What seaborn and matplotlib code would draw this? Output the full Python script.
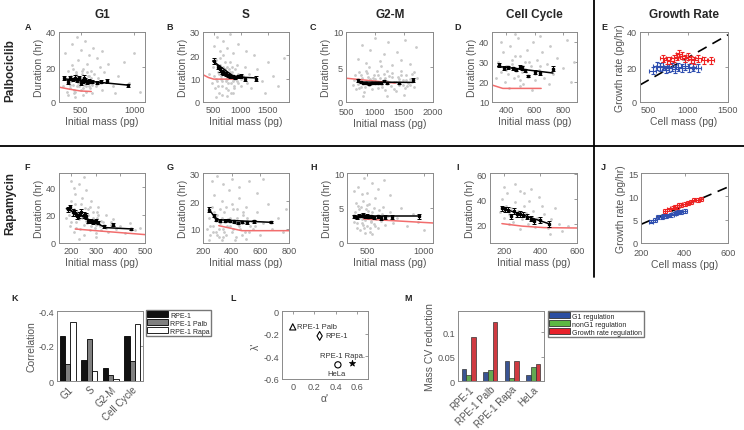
import numpy as np
import pandas as pd
import matplotlib
matplotlib.use("Agg")
import matplotlib.pyplot as plt
import seaborn as sns
from matplotlib.lines import Line2D
from matplotlib.patches import Patch

# ---------------- data ----------------
# Panel A (Palbociclib, G1)
a_cloud_x = [340,355,370,380,390,400,410,420,430,440,450,460,470,480,490,500,510,520,530,540,550,560,570,580,590,600,620,640,660,680,700,
             360,420,470,500,540,580,620,650,700,760,750,800,850,900,950,1000,1050,820,720,380,450,520,610,
             400,420,440,460,480,500,520,540,560,580,600,430,470,510,550,590,630,450,490,530,570,610,650,410]
a_cloud_y = [9,14,6,18,11,8,15,21,10,5,13,17,9,24,12,7,16,19,10,13,6,22,11,15,8,18,12,9,14,20,7,
             28,33,37,30,35,27,31,25,29,22,12,9,15,23,11,28,6,5,17,4,3,4,5,
             10,13,7,16,11,14,8,12,17,9,14,19,15,18,9,11,16,6,9,13,15,10,11,12]
a_bin_x = [350,380,400,430,450,470,490,500,520,530,545,560,580,610,650,690,750,940]
a_bin_y = [13.5,11.5,13.5,13,14,12.5,13.5,11,12,14,12.5,11.5,12,11.5,11,11.5,12,9.5]
a_bin_e = [1.2,1,1.2,1,1.3,1,1.2,1,1.2,1.5,1,1,1,0.8,0.8,0.8,1,0.8]
a_fit_x = [350,950]
a_fit_y = [13.2,9.6]
a_mod_x = [300,400,500,600]
a_mod_y = [8.5,7.3,6.3,6.0]

# Panel B (Palbociclib, S)
b_cloud_x = [420,460,480,500,520,540,560,580,600,620,640,660,680,700,720,740,760,780,800,820,840,860,880,900,930,960,1000,1040,1080,1120,1160,
             500,560,620,680,740,800,860,950,1100,1200,1300,1400,1500,1600,1700,1800,1250,1450,650,750,850,550,700,
             550,600,650,700,750,800,850,900,950,1000,580,630,680,730,780,830,880,930,700,760,820,620,660,720,840]
b_cloud_y = [12,8,15,11,6,18,9,13,4,16,10,7,20,12,9,15,5,11,17,8,13,10,6,14,9,12,7,11,15,8,12,
             24,28,22,26,23,29,21,25,22,6,14,9,17,11,7,19,20,4,3,2.5,4,2,14,
             10,12,9,14,10,13,9,11,8,10,7,11,15,6,14,12,7,16,17,8,4,19,13,10,15]
b_bin_x = [500,580,620,650,680,720,760,800,850,900,950,1000,1080,1280]
b_bin_y = [17.5,15,14,13,12.5,12,11.5,11,11,10.5,11,11,10,10]
b_bin_e = [1.3,1,1,0.8,0.8,0.7,0.7,0.7,0.7,0.7,0.7,0.8,0.8,1]
b_fit_x = [480,880,1290]
b_fit_y = [17.6,10.8,10.3]
b_mod_x = [300,400,500,930]
b_mod_y = [11.7,10.5,9.8,9.8]

# Panel C (Palbociclib, G2-M)
c_cloud_x = [620,650,680,700,730,760,780,810,840,860,890,920,950,980,1000,1030,1060,1090,1120,1150,1180,1210,1240,1270,1300,1330,1360,1390,1420,1450,1480,1510,1540,1570,1600,1640,1680,1720,
             700,780,850,920,1000,1080,1150,1230,1300,1380,1450,1520,1600,1700,900,1100,800,1200,1500,
             640,700,760,820,880,940,1000,1060,1120,1180,1240,1300,1360,1420,1480,1540,1600,1660,720,840,960,1080,1200,1320,1440,1560,1680]
c_cloud_y = [2.5,3.8,1.8,3.1,4.3,2.2,3.5,1.5,2.9,4.1,2.4,3.3,1.9,3.9,2.7,4.5,2.0,3.4,2.6,4.0,1.7,3.0,3.7,2.3,4.2,2.8,1.6,3.6,2.5,4.4,3.1,2.0,3.8,2.7,3.3,4.0,2.2,3.5,
             6.2,8.1,5.6,7.4,9.2,5.9,6.8,8.6,5.3,7.1,6.0,8.9,5.5,7.8,5.0,5.1,0.8,0.9,1.0,
             3.2,2.6,3.9,2.1,3.6,2.8,3.3,3.9,2.2,3.4,2.8,3.6,2.9,3.3,2.4,3.1,2.5,3.1,2.0,4.4,3.5,2.9,4.4,1.9,3.8,2.3,4.3]
c_bin_x = [713,760,800,850,900,950,1000,1050,1100,1150,1200,1406,1654]
c_bin_y = [3.1,2.8,2.75,2.65,2.6,2.7,2.65,2.75,2.7,2.95,2.7,2.7,3.15]
c_bin_e = [0.2,0.1,0.1,0.1,0.1,0.1,0.1,0.1,0.1,0.15,0.12,0.15,0.25]
c_fit_x = [700,1660]
c_fit_y = [2.85,2.8]
c_mod_x = [500,1350]
c_mod_y = [3.4,2.7]

# Panel D (Palbociclib, cell cycle)
d_cloud_x = [330,345,360,375,390,400,415,430,440,455,470,480,495,510,520,535,550,560,575,590,600,615,630,650,670,690,710,730,760,800,830,860,880,420,500,580,640,700,360,460,
             400,440,480,520,560,600,640,460,500,540]
d_cloud_y = [22,30,25,35,20,28,24,38,31,22,27,42,33,25,19,30,36,23,28,40,21,31,26,35,22,29,38,24,32,27,41,20,30,17,18,16,43,19,40,44,
             26,29,23,28,30,24,28,33,21,25]
d_bin_x = [346,387,410,445,468,495,514,532,555,601,640,728]
d_bin_y = [28.3,26.9,27.4,26.9,26.2,27.4,26.9,25.9,23.1,25,24.5,26.6]
d_bin_e = [1,1,0.8,0.8,0.8,1,1,0.8,0.5,1,1,1.2]
d_fit_x = [340,730]
d_fit_y = [27.8,24.5]
d_mod_x = [300,376,647]
d_mod_y = [18.5,16.8,16.8]

# Panel E (Palbociclib, growth rate)
e_red_x = [690,740,780,830,860,890,930,960,1000,1040,1080,1130,1200,1290]
e_red_y = [25,24,23.5,25,26,27.5,26.5,25,26,24.5,24,25,24,24]
e_blue_x = [560,610,650,690,720,760,800,840,880,920,960,1010,1060,1120]
e_blue_y = [18,20.5,20,20.5,18.5,19.5,20,19,20,19.5,20.5,19.5,20,19.5]
e_line_x = [400,1500]
e_line_y = [9.75,38.4]

# Panel F (Rapamycin, G1)
f_cloud_x = [180,190,195,200,205,210,215,220,225,230,235,240,245,250,255,260,265,270,275,280,285,290,295,300,305,310,315,320,330,340,350,360,370,380,400,420,440,460,480,200,250,230,300,210,
             190,200,210,220,230,240,250,260,270,280,290,300,310,320,340,360,215,245,275,305]
f_cloud_y = [18,25,12,30,20,8,35,15,22,42,10,28,18,6,25,38,14,20,9,30,16,22,11,7,18,26,12,9,15,20,8,13,17,10,12,7,14,9,11,44,47,3,4,39,
             20,15,24,11,17,21,13,16,24,12,18,13,20,16,11,15,28,32,26,22]
f_bin_x = [185,195,205,215,225,232,240,250,260,270,280,290,300,310,335,370,445]
f_bin_y = [24,25.5,22,21.5,19,20,22,20,19.5,16,15.5,15,16,14.5,12,13,10]
f_bin_e = [2,2,2.5,2,2,2,2,2,2,1.5,1.5,1.5,1.5,1.2,1,1,1]
f_fit_x = [180,340,450]
f_fit_y = [24.5,11,10]
f_mod_x = [216,300,400,500]
f_mod_y = [10,8.8,7.4,6]

# Panel G (Rapamycin, S)
g_cloud_x = [230,240,250,260,270,280,290,300,310,320,330,340,350,360,370,380,390,400,410,420,430,440,450,460,470,480,490,500,520,540,560,580,600,620,650,680,720,760,780,
             260,300,340,400,450,520,580,620,240,330,420,500,
             250,270,290,310,330,350,370,390,410,430,450,470,490,510,530,550,280,320,360,400,440,480,300,340]
g_cloud_y = [10,14,8,18,11,22,9,15,7,12,20,10,16,8,13,24,11,9,17,12,7,14,21,10,8,15,12,18,9,13,11,16,8,12,19,10,14,9,17,
             27,29,26,28,25,27,23,28,6,6,6,6.5,
             11,9,13,10,14,9,11,14,10,13,11,12,9,14,11,10,16,17,18,19,17,16,8,7]
g_bin_x = [242,275,293,321,356,373,391,415,443,473,508,555,672]
g_bin_y = [16.9,14.8,13.4,13,13,13.3,12.9,12.7,12.2,12.4,12.4,12.7,12.5]
g_bin_e = [0.8,0.5,0.5,0.4,0.4,0.4,0.4,0.4,0.4,0.4,0.5,0.5,0.5]
g_fit_x = [240,295,670]
g_fit_y = [17.2,13.3,12.4]
g_mod_x = [310,470,800]
g_mod_y = [11.2,9.4,9.4]

# Panel H (Rapamycin, G2-M)
h_cloud_x = [380,395,405,415,425,435,445,455,465,475,485,495,505,515,525,535,545,555,565,575,590,605,620,640,660,680,700,730,760,800,850,900,950,1000,420,470,500,540,590,650,700,450,380,
             390,410,430,450,470,490,510,530,550,570,600,630,400,440,480,520,560,460,500,540]
h_cloud_y = [3,4.5,2.2,5.3,3.6,1.8,4.2,2.9,6,3.3,4.8,2.5,3.9,5.6,1.6,3.1,4.4,2.7,6.5,3.5,2.1,4.7,3.2,5.1,2.6,3.8,4.4,2.9,3.6,5.0,2.4,4.1,3.0,1.9,8,9.3,7.2,8.6,7.7,9,6.8,7,7.5,
             3.6,2.8,4.8,3.4,2.2,3.6,4.6,3.0,3.9,2.4,3.7,4.2,5.7,5.2,1.5,2.1,5.0,2.6,5.4,1.3]
h_bin_x = [380,410,430,450,465,480,495,510,530,555,590,620,660,720,960]
h_bin_y = [3.8,3.7,3.9,3.85,4.0,3.8,3.9,3.75,3.8,3.7,3.8,3.6,3.75,3.7,3.8]
h_bin_e = [0.2,0.2,0.2,0.2,0.25,0.2,0.2,0.2,0.2,0.2,0.25,0.25,0.25,0.3,0.35]
h_fit_x = [378,962]
h_fit_y = [3.9,3.9]
h_mod_x = [466,1080]
h_mod_y = [3.43,2.86]

# Panel I (Rapamycin, cell cycle)
i_cloud_x = [180,190,200,210,220,230,240,250,260,270,280,290,300,310,320,330,340,350,360,370,380,390,400,420,440,460,480,500,520,200,260,310,350,230,290,410,450,550]
i_cloud_y = [30,40,25,35,45,28,33,22,38,27,31,47,24,35,29,20,39,26,31,18,25,42,22,28,17,24,33,20,15,50,52,45,48,20,16,35,12,19]
i_bin_x = [190,205,225,240,255,270,290,305,325,350,365,400,445]
i_bin_y = [33,32,31.5,26.5,30.5,28,28.5,27.5,26,24.5,22.5,23.5,20.5]
i_bin_e = [2,2,2,2,2.5,2,2.5,2,2,2,2,2.5,2.5]
i_fit_x = [190,445]
i_fit_y = [33,20.5]
i_mod_x = [190,300,420,600]
i_mod_y = [20.5,18.5,17.3,17]

# Panel J (Rapamycin, growth rate)
j_blue_x = [245,265,280,295,305,315,325,340,350,360,370,385,400]
j_blue_y = [4.6,5.0,5.5,5.6,5.8,5.7,5.9,6.0,6.3,6.5,6.6,6.7,6.8]
j_red_x = [310,330,345,355,365,375,385,400,415,430,445,460,475]
j_red_y = [6.9,7.2,7.6,7.8,7.7,8.2,8.1,8.4,8.6,8.8,9.3,9.2,9.5]
j_line_x = [200,600]
j_line_y = [4.0,12.0]

# Panel K (correlations)
k_phases = ['G1', 'S', 'G2-M', 'Cell Cycle']
k_lines = ['RPE-1', 'RPE-1 Palb', 'RPE-1 Rapa']
k_rpe1 = [-0.256, -0.121, -0.077, -0.256]
k_palb = [-0.096, -0.240, -0.035, -0.115]
k_rapa = [-0.337, -0.060, -0.013, -0.323]

# Panel L (alpha', lambda')
l_names = ['RPE-1', 'RPE-1 Palb', 'RPE-1 Rapa.', 'HeLa']
l_alpha = [0.25, 0.0, 0.555, 0.42]
l_lambda = [-0.22, -0.14, -0.455, -0.475]

# Panel M (mass CV reduction)
m_cells = ['RPE-1', 'RPE-1 Palb', 'RPE-1 Rapa', 'HeLa']
m_kinds = ['G1 regulation', 'nonG1 regulation', 'Growth rate regulation']
m_g1 = [0.024, 0.018, 0.041, 0.012]
m_nong1 = [0.013, 0.022, 0.006, 0.028]
m_growth = [0.090, 0.120, 0.041, 0.035]

# ---------------- style ----------------
sns.set_style("white")
plt.rcParams['font.family'] = ['Liberation Sans', 'DejaVu Sans']
plt.rcParams['axes.unicode_minus'] = False

W, H = 744, 431
fig = plt.figure(figsize=(W / 100, H / 100), dpi=100)

TXT = '#555555'
EDGE = '#8a8a8a'
CLOUD = '#c9c9c9'
MODEL = '#f26d6d'
RED = '#ee2222'
BLUE = '#2f4fb0'


def add_ax(l, t, r, b):
    return fig.add_axes([l / W, 1 - b / H, (r - l) / W, (b - t) / H])


def style(ax, xlim, ylim, xt, yt, xtl=None, ytl=None, xpad=2):
    ax.set_xlim(*xlim)
    ax.set_ylim(*ylim)
    ax.set_xticks(xt)
    ax.set_yticks(yt)
    if xtl is not None:
        ax.set_xticklabels(xtl)
    if ytl is not None:
        ax.set_yticklabels(ytl)
    ax.tick_params(direction='in', length=2, width=0.6, colors=EDGE,
                   labelcolor=TXT, labelsize=6.6, pad=2, top=True, right=True)
    ax.tick_params(axis='x', pad=xpad)
    for s in ax.spines.values():
        s.set_color(EDGE)
        s.set_linewidth(0.7)
    ax.set_facecolor('white')


def duration_panel(rect, cx, cy, bx, by, be, fx, fy, mx, my, xlim, ylim, xt, yt, xpad=2):
    ax = add_ax(*rect)
    sns.scatterplot(x=cx, y=cy, ax=ax, s=4, color=CLOUD, linewidth=0, legend=False)
    sns.lineplot(x=mx, y=my, ax=ax, color=MODEL, lw=1.1, sort=False, estimator=None)
    sns.lineplot(x=fx, y=fy, ax=ax, color='black', lw=1.1, sort=False, estimator=None)
    ax.errorbar(bx, by, yerr=be, fmt='s', ms=1.6, color='black', ecolor='black',
                elinewidth=0.7, capsize=1.3, capthick=0.7)
    style(ax, xlim, ylim, xt, yt, xpad=xpad)
    ax.set_xlabel('Initial mass (pg)', fontsize=7.5, color=TXT, labelpad=1.5)
    ax.set_ylabel('Duration (hr)', fontsize=7.5, color=TXT, labelpad=1.5)
    return ax


duration_panel((59, 33, 145, 103), a_cloud_x, a_cloud_y, a_bin_x, a_bin_y, a_bin_e,
               a_fit_x, a_fit_y, a_mod_x, a_mod_y, (300, 1100), (0, 40), [500, 1000], [0, 20, 40])
duration_panel((203, 33, 289, 103), b_cloud_x, b_cloud_y, b_bin_x, b_bin_y, b_bin_e,
               b_fit_x, b_fit_y, b_mod_x, b_mod_y, (300, 1900), (0, 30), [500, 1000, 1500], [0, 10, 20, 30])
duration_panel((346, 33, 433, 103), c_cloud_x, c_cloud_y, c_bin_x, c_bin_y, c_bin_e,
               c_fit_x, c_fit_y, c_mod_x, c_mod_y, (500, 2000), (0, 10), [500, 1000, 1500, 2000], [0, 5, 10],
               xpad=3.5)
duration_panel((492, 33, 577, 103), d_cloud_x, d_cloud_y, d_bin_x, d_bin_y, d_bin_e,
               d_fit_x, d_fit_y, d_mod_x, d_mod_y, (300, 900), (10, 45), [400, 600, 800], [10, 20, 30, 40])
duration_panel((59, 174, 145, 244), f_cloud_x, f_cloud_y, f_bin_x, f_bin_y, f_bin_e,
               f_fit_x, f_fit_y, f_mod_x, f_mod_y, (150, 500), (0, 50), [200, 300, 400, 500], [0, 20, 40])
duration_panel((203, 174, 289, 244), g_cloud_x, g_cloud_y, g_bin_x, g_bin_y, g_bin_e,
               g_fit_x, g_fit_y, g_mod_x, g_mod_y, (200, 800), (5, 30), [200, 400, 600, 800], [10, 20, 30])
duration_panel((347, 174, 433, 244), h_cloud_x, h_cloud_y, h_bin_x, h_bin_y, h_bin_e,
               h_fit_x, h_fit_y, h_mod_x, h_mod_y, (320, 1080), (0, 10), [500, 1000], [0, 5, 10])
duration_panel((490, 174, 577, 244), i_cloud_x, i_cloud_y, i_bin_x, i_bin_y, i_bin_e,
               i_fit_x, i_fit_y, i_mod_x, i_mod_y, (125, 600), (5, 61), [200, 400, 600], [20, 40, 60])


def growth_panel(rect, rx, ry, bx, by, lx, ly, rxe, rye, bxe, bye, xlim, ylim, xt, yt, xpad=2):
    ax = add_ax(*rect)
    sns.lineplot(x=lx, y=ly, ax=ax, color='black', lw=1.2, sort=False, estimator=None)
    ax.lines[-1].set_dashes((6, 4))
    ax.errorbar(bx, by, xerr=bxe, yerr=bye, fmt='none', ecolor=BLUE,
                elinewidth=0.8, capsize=1.5, capthick=0.8)
    ax.errorbar(rx, ry, xerr=rxe, yerr=rye, fmt='none', ecolor=RED,
                elinewidth=0.8, capsize=1.5, capthick=0.8)
    style(ax, xlim, ylim, xt, yt, xpad=xpad)
    ax.set_xlabel('Cell mass (pg)', fontsize=7.5, color=TXT, labelpad=1.5)
    ax.set_ylabel('Growth rate (pg/hr)', fontsize=7.5, color=TXT, labelpad=1.5)
    return ax


growth_panel((640, 33, 728, 103), e_red_x, e_red_y, e_blue_x, e_blue_y, e_line_x, e_line_y,
             40, 2, 45, 2.2, (400, 1500), (0, 40), [500, 1000, 1500], [0, 20, 40])
growth_panel((641, 174, 728, 244), j_red_x, j_red_y, j_blue_x, j_blue_y, j_line_x, j_line_y,
             10, 0.4, 10, 0.4, (200, 600), (0, 15), [200, 400, 600], [0, 5, 10, 15], xpad=3.5)

# ---- Panel K ----
axk = add_ax(57, 312, 143, 382)
df_k = pd.DataFrame({
    'phase': k_phases * 3,
    'corr': k_rpe1 + k_palb + k_rapa,
    'line': [k_lines[0]] * 4 + [k_lines[1]] * 4 + [k_lines[2]] * 4,
})
k_colors = ['#111111', '#808080', '#ffffff']
sns.barplot(data=df_k, x='phase', y='corr', hue='line', palette=k_colors, ax=axk,
            edgecolor='black', linewidth=0.6, width=0.75, legend=False, errorbar=None)
style(axk, (-0.5, 3.5), (0, -0.4), [0, 1, 2, 3], [-0.4, -0.2, 0],
      xtl=k_phases, ytl=['-0.4', '-0.2', '0'])
axk.tick_params(axis='x', length=0)
for t in axk.get_xticklabels():
    t.set_rotation(45)
    t.set_ha('right')
    t.set_rotation_mode('anchor')
    t.set_fontsize(7)
axk.set_xlabel('')
axk.set_ylabel('Correlation', fontsize=7.5, color=TXT, labelpad=1.5)
fig.legend(handles=[Patch(facecolor=c, edgecolor='black', linewidth=0.6) for c in k_colors],
           labels=k_lines, loc='upper left', bbox_to_anchor=(146 / W, 1 - 311 / H),
           fontsize=5, frameon=True, edgecolor='#555555', fancybox=False,
           handlelength=3.0, handleheight=0.9, borderpad=0.2, labelspacing=0.1,
           handletextpad=0.3, borderaxespad=0)

# ---- Panel L ----
axl = add_ax(282, 312, 368, 380)
l_markers = ['d', '^', '*', 'o']
for a, lam, mk in zip(l_alpha, l_lambda, l_markers):
    if mk == '*':
        sns.scatterplot(x=[a], y=[lam], ax=axl, marker=mk, s=22, color='black',
                        edgecolor='black', linewidth=0.5, legend=False)
    else:
        sns.scatterplot(x=[a], y=[lam], ax=axl, marker=mk, s=20,
                        facecolor='none', edgecolor='black', linewidth=0.8, legend=False)
style(axl, (-0.1, 0.7), (-0.6, 0), [0, 0.2, 0.4, 0.6], [-0.6, -0.4, -0.2, 0],
      xtl=['0', '0.2', '0.4', '0.6'], ytl=['-0.6', '-0.4', '-0.2', '0'])
axl.text(l_alpha[1] + 0.04, l_lambda[1], l_names[1], fontsize=5.5, color='#333333', va='center')
axl.text(l_alpha[0] + 0.05, l_lambda[0], l_names[0], fontsize=5.5, color='#333333', va='center')
axl.text(l_alpha[2] - 0.09, l_lambda[2] + 0.065, l_names[2], fontsize=5.5, color='#333333', ha='center', va='center')
axl.text(l_alpha[3] - 0.01, l_lambda[3] - 0.075, l_names[3], fontsize=5.5, color='#333333', ha='center', va='center')
axl.set_xlabel("α'", fontsize=7.5, color=TXT, labelpad=1.5)
axl.set_ylabel("λ'", fontsize=7.5, color=TXT, labelpad=1.5)

# ---- Panel M ----
axm = add_ax(458, 312, 544, 382)
df_m = pd.DataFrame({
    'cell': m_cells * 3,
    'cv': m_g1 + m_nong1 + m_growth,
    'kind': [m_kinds[0]] * 4 + [m_kinds[1]] * 4 + [m_kinds[2]] * 4,
})
m_colors = ['#2b4ea2', '#5cb843', '#e8212b']
sns.barplot(data=df_m, x='cell', y='cv', hue='kind', palette=m_colors, ax=axm,
            edgecolor='#333333', linewidth=0.5, width=0.65, legend=False, errorbar=None)
style(axm, (-0.5, 3.5), (0, 0.143), [0, 1, 2, 3], [0, 0.05, 0.1],
      xtl=m_cells, ytl=['0', '0.05', '0.1'])
axm.tick_params(axis='x', length=0)
for t in axm.get_xticklabels():
    t.set_rotation(45)
    t.set_ha('right')
    t.set_rotation_mode('anchor')
    t.set_fontsize(7)
axm.set_xlabel('')
axm.set_ylabel('Mass CV reduction', fontsize=7.5, color=TXT, labelpad=1.5)
fig.legend(handles=[Patch(facecolor=c, edgecolor='#333333', linewidth=0.6) for c in m_colors],
           labels=m_kinds, loc='upper left', bbox_to_anchor=(548 / W, 1 - 312 / H),
           fontsize=5, frameon=True, edgecolor='#555555', fancybox=False,
           handlelength=3.0, handleheight=0.9, borderpad=0.2, labelspacing=0.1,
           handletextpad=0.3, borderaxespad=0)

# ---- titles, row labels, panel letters ----
for txt, x in [('G1', 102), ('S', 246), ('G2-M', 390), ('Cell Cycle', 534), ('Growth Rate', 684)]:
    fig.text(x / W, 1 - 15 / H, txt, fontsize=8.5, fontweight='bold', ha='center', va='center')
fig.text(10 / W, 1 - 71 / H, 'Palbociclib', fontsize=8.5, fontweight='bold',
         rotation=90, ha='center', va='center')
fig.text(10 / W, 1 - 204 / H, 'Rapamycin', fontsize=8.5, fontweight='bold',
         rotation=90, ha='center', va='center')
letters = [('A', 28, 27), ('B', 170, 27), ('C', 313, 27), ('D', 458, 27), ('E', 604, 27),
           ('F', 27, 168), ('G', 170, 168), ('H', 314, 168), ('I', 458, 168), ('J', 603, 168),
           ('K', 15, 299), ('L', 233, 299), ('M', 408, 299)]
for L, x, y in letters:
    fig.text(x / W, 1 - y / H, L, fontsize=6.5, fontweight='bold', ha='center', va='center')

# separators
fig.add_artist(Line2D([0, 1], [1 - 147 / H, 1 - 147 / H], transform=fig.transFigure,
                      color='black', lw=1.3))
fig.add_artist(Line2D([594 / W, 594 / W], [1, 1 - 278 / H], transform=fig.transFigure,
                      color='black', lw=1.3))

fig.savefig('out.png', dpi=100, facecolor='white')
